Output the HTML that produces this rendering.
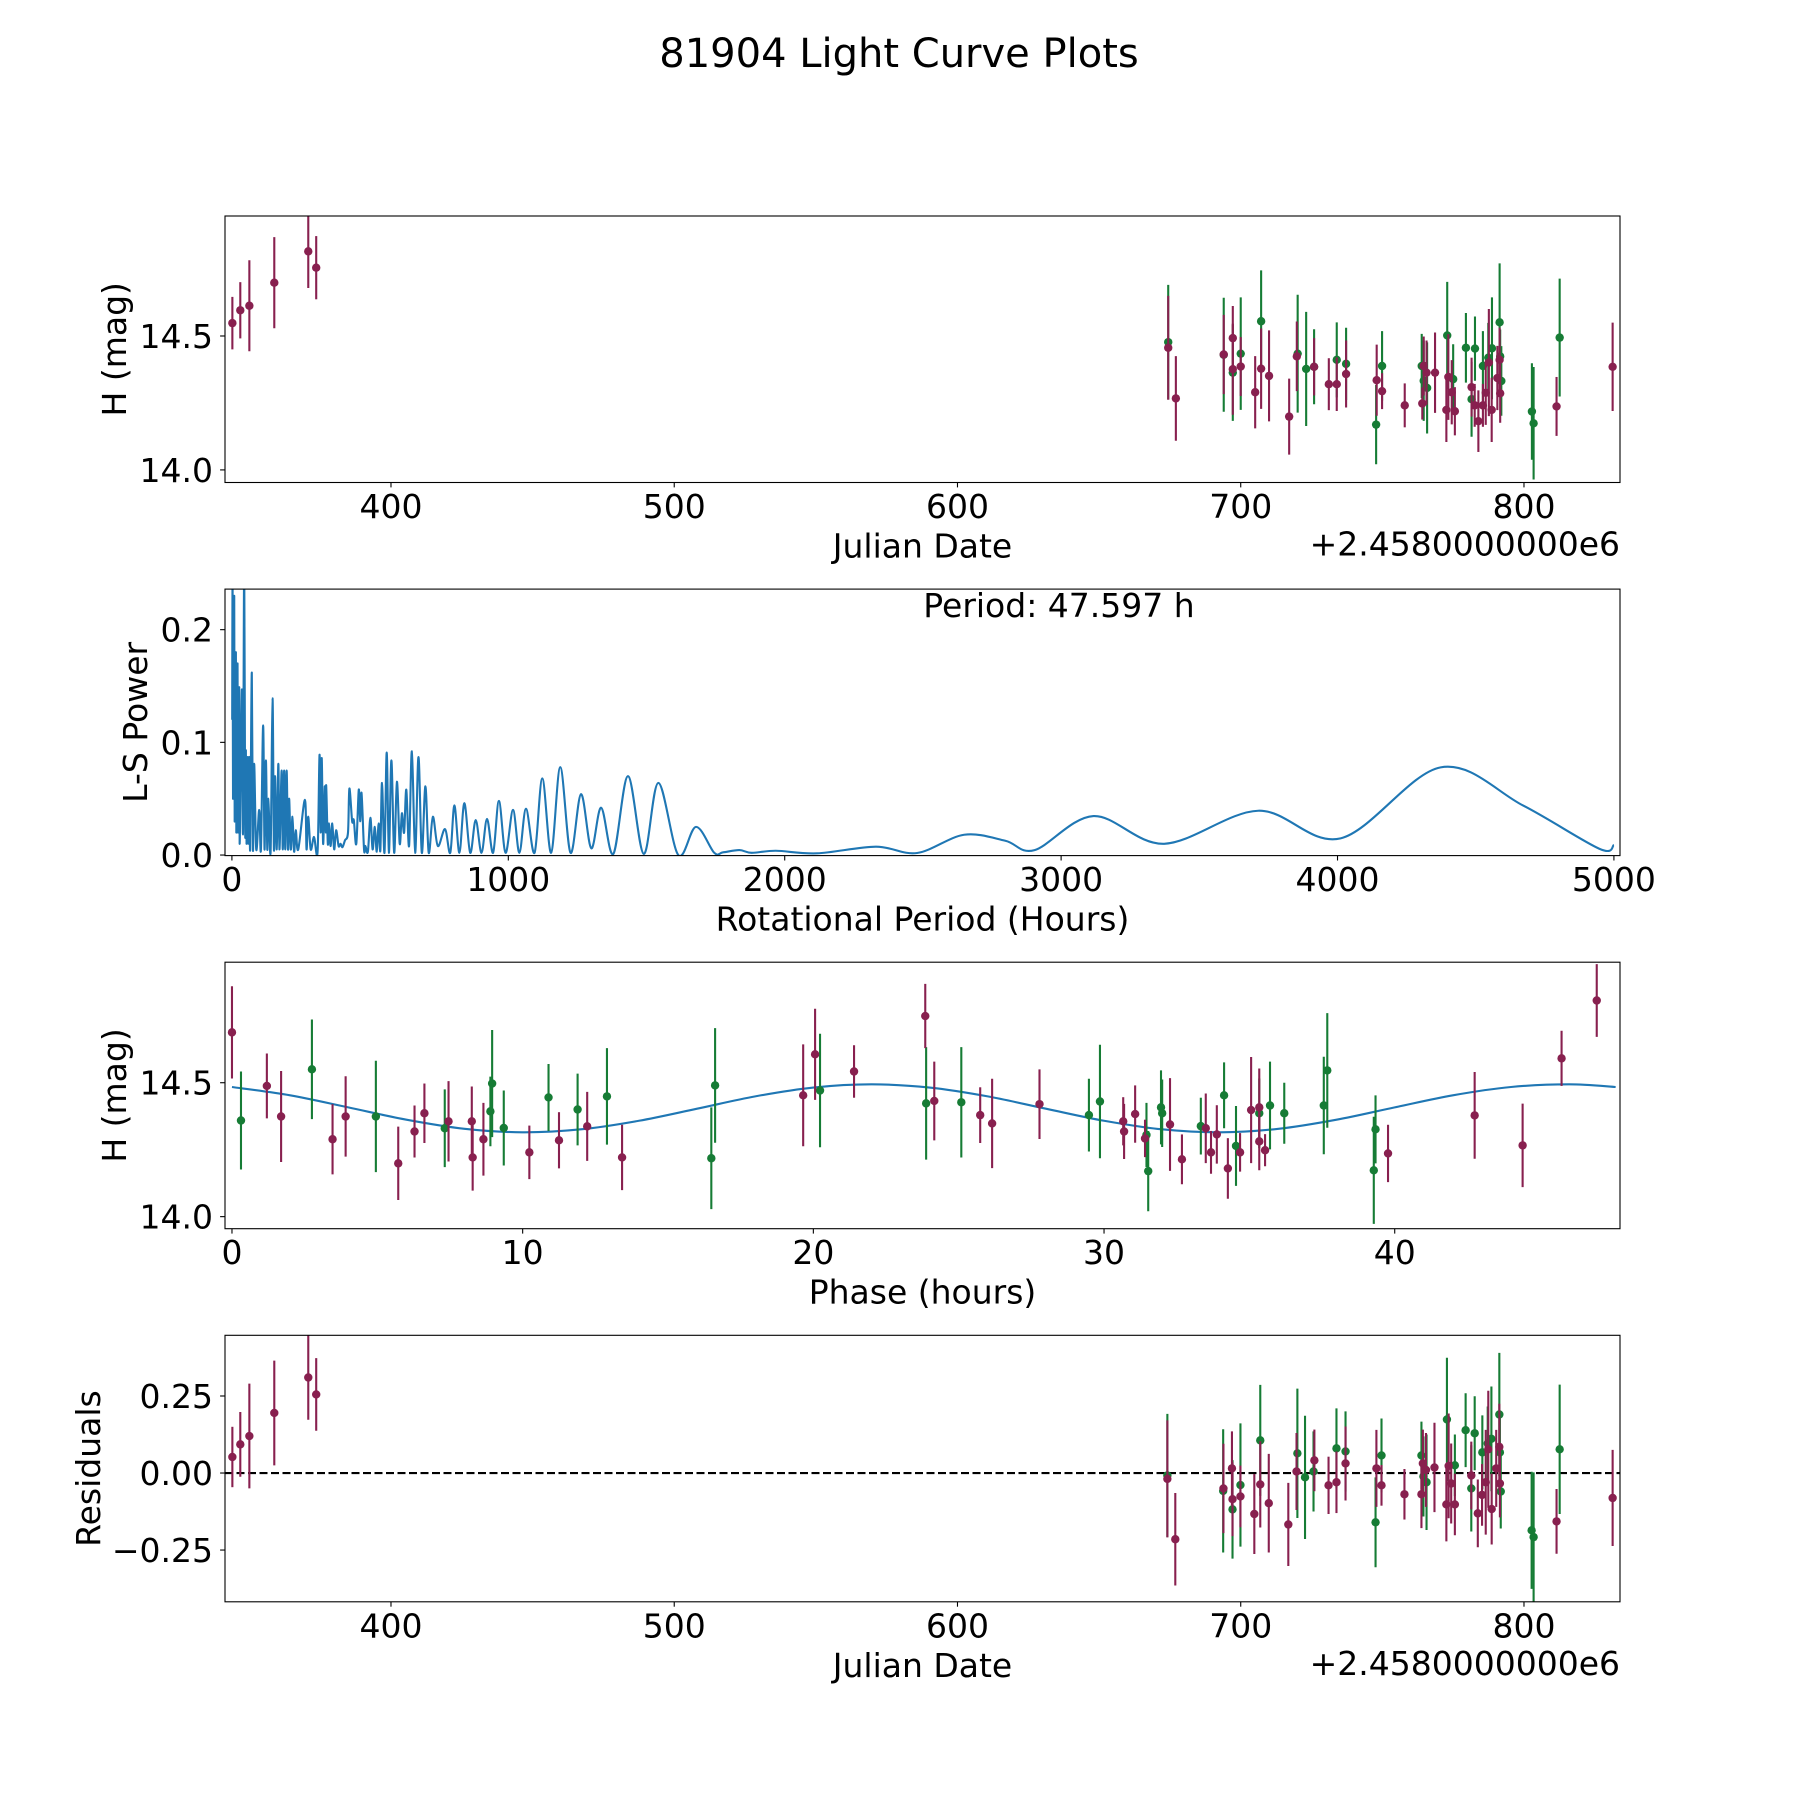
<!DOCTYPE html>
<html><head><meta charset="utf-8"><style>
html,body{margin:0;padding:0;background:#fff;}
svg{display:block;font-family:"DejaVu Sans","Liberation Sans",sans-serif;}
</style></head><body>
<svg id="fig" width="1800" height="1800" viewBox="0 0 1800 1800" xmlns="http://www.w3.org/2000/svg">
<rect width="1800" height="1800" fill="#fff"/>
<text x="899" y="67" font-size="40" text-anchor="middle">81904 Light Curve Plots</text>
</svg>
<script>
// ---- Light curve (plot 1) data ----
const lcJD = [344.0,346.8,350.0,358.8,370.8,373.6,674.4,674.4,677.1,694.0,694.0,697.2,697.2,697.2,700.0,700.0,705.1,707.2,707.2,710.0,717.1,720.1,719.8,723.1,725.9,725.9,731.1,733.9,733.9,737.2,737.2,747.8,748.0,749.9,749.9,757.9,763.9,764.1,764.6,764.6,765.8,765.6,768.6,772.9,773.3,772.6,774.5,775.0,775.6,779.5,781.5,781.5,782.7,782.6,783.9,785.5,785.5,786.5,787.4,787.6,788.6,788.7,790.6,791.4,791.4,791.6,791.6,792.0,802.8,803.4,811.5,812.6,831.3];
const lcMag = [14.548,14.596,14.613,14.699,14.816,14.755,14.477,14.456,14.267,14.43,14.431,14.492,14.376,14.363,14.434,14.386,14.29,14.555,14.378,14.351,14.199,14.434,14.424,14.377,14.385,14.385,14.32,14.32,14.411,14.396,14.358,14.169,14.335,14.388,14.294,14.241,14.388,14.248,14.388,14.333,14.306,14.363,14.363,14.502,14.347,14.224,14.29,14.339,14.219,14.456,14.309,14.264,14.453,14.241,14.182,14.241,14.388,14.288,14.419,14.401,14.224,14.454,14.343,14.551,14.411,14.424,14.286,14.332,14.218,14.174,14.237,14.494,14.385];
const lcErr = [0.098,0.105,0.17,0.17,0.137,0.118,0.214,0.194,0.158,0.213,0.148,0.12,0.17,0.18,0.21,0.11,0.135,0.19,0.15,0.17,0.142,0.22,0.13,0.213,0.14,0.107,0.097,0.1,0.14,0.135,0.125,0.148,0.133,0.13,0.067,0.082,0.12,0.06,0.11,0.15,0.17,0.12,0.15,0.2,0.16,0.12,0.12,0.13,0.09,0.13,0.11,0.14,0.12,0.08,0.115,0.08,0.13,0.12,0.13,0.2,0.12,0.19,0.12,0.22,0.12,0.1,0.11,0.13,0.18,0.21,0.11,0.22,0.165];
const lcBand = ['M','M','M','M','M','M','G','M','M','G','M','M','M','G','G','M','M','G','M','M','M','G','M','G','G','M','M','M','G','G','M','G','M','G','M','M','G','M','M','G','G','M','M','G','M','M','M','G','M','G','M','G','G','M','M','M','G','M','G','M','M','G','M','G','M','G','M','G','G','G','M','G','M'];

// ---- Periodogram (plot 2) data ----
const lsPeriod = [1,2.4,4,8.4,10,14.4,16,20.4,22,26.4,28,36,40,44.5,48,50.5,53,56.5,59,62.5,66,72,76,80.5,88,98.6,105,113,118,123,128,132,140,147,152,156,162,168,172,180,184,189,193,198,203,207,213,219,225,231,240,264,270,276,285,297,310,317,321,325,330,336,340,341,347,351,357,363,370,377,386,393,400,409,420,425,435,441,450,459,464,469,478,483,492,501,509,517,524,531,537,543,552,560,568,577,587,597,607,615,623,631,641,651,663,675,687,700,712,727,745,771,790,805,823,841,862,882,903,923,945,966,990,1017,1040,1064,1095,1123,1155,1188,1225,1263,1300,1336,1380,1433,1490,1543,1615,1679,1745,1777,1836,1880,1968,2117,2330,2479,2649,2798,2904,3117,3373,3713,4011,4373,4671,4947,5000];
const lsPower = [0.12,0.26,0.05,0.23,0.03,0.18,0.02,0.17,0.02,0.149,0.01,0.147,0.02,0.26,0.02,0.093,0.01,0.087,0.01,0.087,0.005,0.162,0.005,0.081,0.005,0.04,0.005,0.115,0.005,0.084,0.005,0.05,0.003,0.139,0.005,0.07,0.005,0.081,0.005,0.075,0.005,0.075,0.005,0.075,0.005,0.05,0.005,0.034,0.003,0.022,0.005,0.049,0.005,0.034,0.005,0.016,0.003,0.089,0.02,0.086,0.01,0.061,0.02,0.062,0.01,0.028,0.008,0.028,0.005,0.022,0.008,0.01,0.007,0.013,0.02,0.059,0.03,0.031,0.01,0.058,0.03,0.055,0.005,0.008,0.003,0.033,0.005,0.025,0.003,0.028,0.004,0.064,0.002,0.091,0.002,0.084,0.002,0.065,0.01,0.037,0.02,0.058,0.008,0.092,0.002,0.087,0.002,0.061,0.002,0.034,0.008,0.023,0.002,0.044,0.002,0.046,0.002,0.031,0.002,0.032,0.002,0.048,0.002,0.04,0.002,0.041,0.002,0.068,0.002,0.078,0.002,0.054,0.006,0.042,0.001,0.07,0.001,0.064,0.0,0.025,0.002,0.0024,0.0044,0.002,0.0038,0.0015,0.0074,0.0018,0.018,0.0127,0.0044,0.0346,0.010,0.0393,0.0148,0.0778,0.044,0.0056,0.0089];
const bestPeriodLabel = 'Period: 47.597 h';

// ---- Phase-folded (plot 3) data ----
const phHours = [0,0.31,1.2,1.69,2.75,3.46,3.91,4.95,5.72,6.28,6.62,7.32,7.45,8.25,8.28,8.65,8.89,8.95,9.35,10.23,10.89,11.25,11.89,12.22,12.9,13.42,16.49,16.62,19.65,20.06,20.23,21.4,23.85,23.88,24.16,25.09,25.74,26.15,27.78,29.48,29.86,30.66,30.69,31.07,31.46,31.41,31.52,31.96,32.0,32.27,32.68,33.33,33.5,33.68,33.88,34.13,34.26,34.54,34.68,35.06,35.34,35.34,35.34,35.54,35.71,36.2,37.56,37.68,39.28,39.34,39.77,42.75,44.4,45.74,46.95];
const phMag = [14.688,14.359,14.488,14.374,14.55,14.289,14.374,14.374,14.199,14.318,14.386,14.33,14.356,14.356,14.221,14.289,14.393,14.497,14.331,14.24,14.445,14.285,14.4,14.337,14.449,14.221,14.218,14.49,14.453,14.606,14.471,14.542,14.749,14.423,14.432,14.427,14.379,14.348,14.42,14.379,14.43,14.356,14.318,14.383,14.305,14.292,14.17,14.408,14.386,14.344,14.214,14.338,14.33,14.24,14.307,14.453,14.18,14.264,14.24,14.398,14.408,14.386,14.281,14.248,14.415,14.386,14.415,14.546,14.173,14.326,14.236,14.378,14.266,14.591,14.807];
const phErr = [0.172,0.183,0.121,0.17,0.186,0.131,0.15,0.208,0.137,0.097,0.111,0.145,0.15,0.13,0.124,0.136,0.13,0.2,0.14,0.1,0.125,0.105,0.134,0.129,0.18,0.122,0.19,0.214,0.19,0.17,0.212,0.098,0.12,0.21,0.147,0.206,0.104,0.167,0.13,0.136,0.212,0.09,0.103,0.107,0.12,0.07,0.15,0.138,0.126,0.173,0.093,0.106,0.13,0.08,0.109,0.123,0.113,0.149,0.072,0.198,0.145,0.13,0.108,0.06,0.164,0.114,0.182,0.214,0.2,0.127,0.107,0.162,0.156,0.103,0.136];
const phBand = ['M','G','M','M','G','M','M','G','M','M','M','G','M','M','M','M','G','G','G','M','G','M','G','M','G','M','G','G','M','M','G','M','M','G','M','G','M','M','M','G','G','M','M','M','G','M','G','G','G','M','M','G','M','M','M','G','M','G','M','M','M','G','M','M','G','G','G','G','G','G','M','M','M','M','M'];
const fitPhase = [0,2,4,6,8,10,12,14,16,18,20,22,24,26,28,30,32,34,36,38,40,42,44,46,47.6];
const fitMag = [14.484,14.453,14.408,14.362,14.328,14.315,14.326,14.358,14.403,14.449,14.482,14.494,14.482,14.449,14.403,14.358,14.326,14.315,14.328,14.362,14.408,14.453,14.484,14.494,14.484];

// ---- Residuals (plot 4) data ----
const resJD = [344.0,346.8,350.0,358.8,370.8,373.6,674.1,674.1,676.9,693.8,693.9,696.9,697.1,697.1,699.9,699.9,704.8,706.9,706.9,709.9,716.8,720.0,719.7,722.7,725.7,726.0,731.0,733.8,733.8,737.0,737.0,747.6,747.9,749.7,749.7,757.8,763.8,764.3,763.8,764.5,765.6,765.4,768.4,772.8,773.4,772.6,774.3,775.6,775.6,779.4,782.6,781.4,781.4,783.7,785.2,785.3,786.5,787.2,787.4,788.5,788.6,790.2,791.3,791.3,791.5,791.5,791.8,802.7,803.4,811.5,812.6,831.3];
const resVal = [0.052,0.093,0.12,0.195,0.31,0.255,-0.008,-0.019,-0.215,-0.058,-0.05,0.015,-0.085,-0.118,-0.039,-0.076,-0.133,0.106,-0.037,-0.098,-0.167,0.064,0.005,-0.014,0.005,0.041,-0.04,-0.03,0.08,0.07,0.031,-0.16,0.015,0.057,-0.04,-0.069,0.057,0.031,-0.069,-0.011,-0.03,0.01,0.018,0.174,0.023,-0.102,-0.034,-0.102,0.025,0.139,0.129,-0.008,-0.05,-0.131,-0.071,0.067,-0.03,0.096,0.077,0.111,-0.117,0.015,0.19,0.085,0.067,-0.034,-0.06,-0.186,-0.208,-0.157,0.077,-0.081];
const resErr = [0.098,0.105,0.17,0.17,0.137,0.118,0.2,0.19,0.15,0.2,0.145,0.12,0.12,0.16,0.2,0.1,0.13,0.18,0.14,0.16,0.135,0.21,0.125,0.2,0.13,0.1,0.093,0.1,0.13,0.13,0.12,0.146,0.125,0.12,0.066,0.082,0.11,0.11,0.11,0.13,0.155,0.12,0.145,0.2,0.17,0.12,0.13,0.1,0.1,0.12,0.12,0.11,0.14,0.11,0.1,0.12,0.17,0.12,0.19,0.17,0.115,0.125,0.2,0.14,0.12,0.11,0.12,0.19,0.21,0.105,0.21,0.156];
const resBand = ['M','M','M','M','M','M','G','M','M','G','M','M','M','G','G','M','M','G','M','M','M','G','M','G','G','M','M','M','G','G','M','G','M','G','M','M','G','M','M','G','G','M','M','G','M','M','M','M','G','G','G','M','G','M','M','G','M','G','M','G','M','M','G','M','G','M','G','G','G','M','G','M'];

const NS = 'http://www.w3.org/2000/svg';
const fig = document.getElementById('fig');
const COL = {G:'#167c35', M:'#88204f'};
const AX_L = 225, AX_R = 1620, AX_H = 266.5;
const AX_TOPS = [216, 589.1, 962.2, 1335.3];
const FS = 33;

function mk(tag, attrs, parent){
  const e = document.createElementNS(NS, tag);
  for (const k in attrs) e.setAttribute(k, attrs[k]);
  (parent||fig).appendChild(e);
  return e;
}
function lin(d0,d1,r0,r1){ return v => r0 + (v-d0)*(r1-r0)/(d1-d0); }
function smoothPath(pts){
  let d = 'M'+pts[0][0].toFixed(2)+','+pts[0][1].toFixed(2);
  for (let i=0;i<pts.length-1;i++){
    const p0 = pts[Math.max(0,i-1)], p1 = pts[i], p2 = pts[i+1], p3 = pts[Math.min(pts.length-1,i+2)];
    const c1x = p1[0]+(p2[0]-p0[0])/6, c1y = p1[1]+(p2[1]-p0[1])/6;
    const c2x = p2[0]-(p3[0]-p1[0])/6, c2y = p2[1]-(p3[1]-p1[1])/6;
    d += ' C'+c1x.toFixed(2)+','+c1y.toFixed(2)+' '+c2x.toFixed(2)+','+c2y.toFixed(2)+' '+p2[0].toFixed(2)+','+p2[1].toFixed(2);
  }
  return d;
}

function makeAxes(idx, name, xd, yd, xticks, xfmt, yticks, yfmt, xlabel, ylabel, ylabelX, offsetText){
  const top = AX_TOPS[idx], bot = top + AX_H;
  const g = mk('g', {});
  
  
  const x = lin(xd[0], xd[1], AX_L, AX_R);
  const y = lin(yd[0], yd[1], bot, top);
  const cp = mk('clipPath', {id:'clip'+idx}, g);
  mk('rect', {x:AX_L, y:top, width:AX_R-AX_L, height:AX_H}, cp);
  const plot = mk('g', {'clip-path':'url(#clip'+idx+')'}, g);
  
  
  xticks.forEach(t => {
    const px = x(t);
    const tk = mk('line', {x1:px, x2:px, y1:bot, y2:bot+4.9, stroke:'#000', 'stroke-width':1.1}, g);
    
    
    const tl = mk('text', {x:px, y:bot+35.5, 'font-size':FS, 'text-anchor':'middle'}, g);
    
    
    tl.textContent = xfmt(t);
  });
  yticks.forEach(t => {
    const py = y(t);
    const tk = mk('line', {x1:AX_L-4.9, x2:AX_L, y1:py, y2:py, stroke:'#000', 'stroke-width':1.1}, g);
    
    
    const tl = mk('text', {x:AX_L-12, y:py+12, 'font-size':FS, 'text-anchor':'end'}, g);
    
    
    tl.textContent = yfmt(t);
  });
  const xl = mk('text', {x:(AX_L+AX_R)/2, y:bot+75, 'font-size':FS, 'text-anchor':'middle'}, g);
  
  
  xl.textContent = xlabel;
  const yl = mk('text', {x:0, y:0, 'font-size':FS, 'text-anchor':'middle', transform:'translate('+ylabelX+','+(top+AX_H/2)+') rotate(-90)'}, g);
  
  
  yl.textContent = ylabel;
  if (offsetText){
    const ot = mk('text', {x:AX_R, y:bot+73, 'font-size':FS, 'text-anchor':'end'}, g);
    
    
    ot.textContent = offsetText;
  }
  return {g, plot, x, y, top, bot};
}
function finishAxes(ax){
  const fr = mk('rect', {x:AX_L, y:ax.top, width:AX_R-AX_L, height:AX_H, fill:'none', stroke:'#000', 'stroke-width':1.1}, ax.g);
  
  
}
function drawErrorbars(ax, xs, ys, es, bands){
  ['G','M'].forEach(b => {
    for (let i=0;i<xs.length;i++){
      if (bands[i] !== b) continue;
      const px = ax.x(xs[i]);
      const bar = mk('line', {x1:px, x2:px, y1:ax.y(ys[i]-es[i]), y2:ax.y(ys[i]+es[i]), stroke:COL[b], 'stroke-width':2.1}, ax.plot);
      
      
    }
    for (let i=0;i<xs.length;i++){
      if (bands[i] !== b) continue;
      const pt = mk('circle', {cx:ax.x(xs[i]), cy:ax.y(ys[i]), r:4.2, fill:COL[b]}, ax.plot);
      
      
    }
  });
}

const f1 = v => v.toFixed(1);
const f0 = v => String(v);
const jdTicks = [400,500,600,700,800];

const ax1 = makeAxes(0, 'light-curve-axes', [341.4,833.9], [13.953,14.948], jdTicks, f0, [14.0,14.5], f1, 'Julian Date', 'H (mag)', 126, '+2.4580000000e6');
drawErrorbars(ax1, lcJD, lcMag, lcErr, lcBand);
finishAxes(ax1);

const ax2 = makeAxes(1, 'periodogram-axes', [-25,5022], [-0.0005,0.236], [0,1000,2000,3000,4000,5000], f0, [0.0,0.1,0.2], f1, 'Rotational Period (Hours)', 'L-S Power', 147, null);
const lsPts = lsPeriod.map((p,i) => [ax2.x(p), ax2.y(lsPower[i])]);
const lsLine = mk('path', {d:smoothPath(lsPts), fill:'none', stroke:'#1f77b4', 'stroke-width':2.1, 'stroke-linejoin':'round'}, ax2.plot);


const pl = mk('text', {x:1059, y:617, 'font-size':FS, 'text-anchor':'middle'}, ax2.g);


pl.textContent = bestPeriodLabel;
finishAxes(ax2);

const ax3 = makeAxes(2, 'phase-folded-axes', [-0.24,47.75], [13.955,14.95], [0,10,20,30,40], f0, [14.0,14.5], f1, 'Phase (hours)', 'H (mag)', 126, null);
const fitPts = fitPhase.map((p,i) => [ax3.x(p), ax3.y(fitMag[i])]);
const fitLine = mk('path', {d:smoothPath(fitPts), fill:'none', stroke:'#1f77b4', 'stroke-width':2.1}, ax3.plot);


drawErrorbars(ax3, phHours, phMag, phErr, phBand);
finishAxes(ax3);

const ax4 = makeAxes(3, 'residuals-axes', [341.4,833.9], [-0.418,0.447], jdTicks, f0, [-0.25,0,0.25], v => (v<0?'\u2212':'')+Math.abs(v).toFixed(2), 'Julian Date', 'Residuals', 100, '+2.4580000000e6');
const zl = mk('line', {x1:AX_L, x2:AX_R, y1:ax4.y(0), y2:ax4.y(0), stroke:'#000', 'stroke-width':2.1, 'stroke-dasharray':'8,3.5'}, ax4.plot);


drawErrorbars(ax4, resJD, resVal, resErr, resBand);
finishAxes(ax4);
</script>
</body></html>
